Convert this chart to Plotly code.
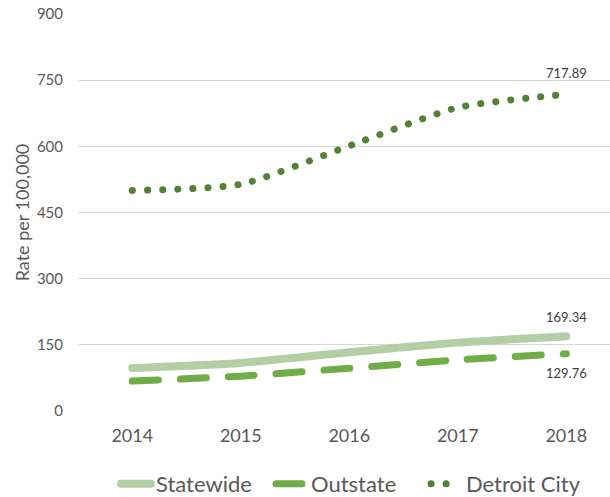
import plotly.graph_objects as go

years = ["2014", "2015", "2016", "2017", "2018"]
statewide = [97.5, 109.0, 133.0, 155.0, 169.34]
outstate = [68.0, 79.0, 97.0, 116.0, 129.76]
detroit = [500.0, 514.0, 601.0, 688.0, 717.89]

font_fam = "Lato, 'Open Sans', sans-serif"
txt_col = "#595959"

fig = go.Figure()
fig.add_trace(go.Scatter(
    x=years, y=statewide, name="Statewide", mode="lines",
    line=dict(color="#b3cfa6", width=8, shape="spline", smoothing=0.6),
))
fig.add_trace(go.Scatter(
    x=years, y=outstate, name="Outstate", mode="lines",
    line=dict(color="#70ad47", width=7, shape="spline", smoothing=0.6, dash="26px,22px"),
))
fig.add_trace(go.Scatter(
    x=years, y=detroit, name="Detroit City", mode="lines",
    line=dict(color="#548235", width=7, shape="spline", smoothing=0.6, dash="0.1px,15px"),
))

last_idx = len(years) - 1
for vals, shift in [(detroit, 21), (statewide, 19), (outstate, -19)]:
    fig.add_annotation(x=last_idx, y=vals[-1], text=f"{vals[-1]:.2f}", showarrow=False,
                       yshift=shift, font=dict(size=13, color="#404040", family=font_fam))

fig.update_layout(
    width=610, height=497,
    margin=dict(l=78, r=0, t=14, b=86, autoexpand=False),
    paper_bgcolor="white", plot_bgcolor="white",
    font=dict(family=font_fam, color=txt_col),
    showlegend=True,
    legend=dict(orientation="h", x=116 / 610, xref="container", xanchor="left",
                y=(497 - 484) / 497, yref="container", yanchor="middle",
                font=dict(size=22, color=txt_col), itemwidth=30, tracegroupgap=0,
                entrywidth=110, entrywidthmode="pixels"),
    xaxis=dict(type="category", range=[-0.5, 4.403], showgrid=False, showline=False,
               zeroline=False, ticks="", ticklabelstandoff=12, tickfont=dict(size=18, color=txt_col)),
    yaxis=dict(range=[0, 900], dtick=150, showgrid=True, gridcolor="#d9d9d9", gridwidth=1,
               zeroline=False, showline=False, ticks="", ticklabelstandoff=14,
               tickfont=dict(size=15, color=txt_col),
               title=dict(text="Rate per 100,000", font=dict(size=18, color=txt_col), standoff=2)),
)

post = """
document.body.style.margin='0';
var s=document.createElement('style');
s.innerHTML='body{margin:0;} .scatterlayer .js-line{stroke-linecap:round;} .legend .js-line{stroke-linecap:round;}';
document.head.appendChild(s);
"""
fig.write_html("out.html", post_script=post, config={"displayModeBar": False})
